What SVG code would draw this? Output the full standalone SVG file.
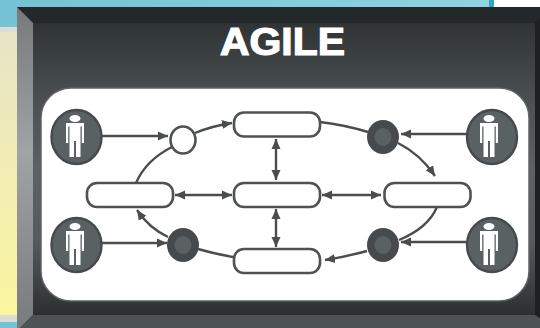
<svg xmlns="http://www.w3.org/2000/svg" width="540" height="328" viewBox="0 0 540 328">
<defs>
<linearGradient id="teal" x1="0" y1="0" x2="1" y2="0"><stop offset="0" stop-color="#74c2d3"/><stop offset="1" stop-color="#90d3e2"/></linearGradient>
<linearGradient id="yel" x1="0" y1="0" x2="0" y2="1"><stop offset="0" stop-color="#e8e4c6"/><stop offset="1" stop-color="#fbf6a0"/></linearGradient>
<linearGradient id="inner" x1="0" y1="0" x2="0" y2="1"><stop offset="0" stop-color="#2f3334"/><stop offset="0.25" stop-color="#494f51"/><stop offset="0.5" stop-color="#5c6264"/><stop offset="0.75" stop-color="#555a5c"/><stop offset="1" stop-color="#2b2f30"/></linearGradient>
<linearGradient id="lb" x1="0" y1="0" x2="0" y2="1"><stop offset="0" stop-color="#77797b"/><stop offset="0.45" stop-color="#a0a4a6"/><stop offset="1" stop-color="#787b7d"/></linearGradient>
<marker id="a" markerUnits="userSpaceOnUse" markerWidth="12" markerHeight="12" refX="10" refY="5.500" orient="auto-start-reverse"><path d="M0,1L10,5.500L0,10Z" fill="#4a4c4e"/></marker>
<g id="man"><ellipse cx="0" cy="-17.500" rx="5.500" ry="3.500" fill="#fff"/><path d="M-9,-13H9V7H6.800V-9.500H5.500V21H1V5H-1V21H-5.500V-9.500H-6.800V7H-9Z" fill="#fff"/></g>
</defs>
<style>
.c{fill:none;stroke:#4a4c4e;stroke-width:2.400}
.r{fill:#fff;stroke:#4f5254;stroke-width:2.600}
.p{fill:#5a6163;stroke:#474a4c;stroke-width:2.400}
.d{fill:#474a4c}
.i{fill:#5a6163}
</style>
<rect width="540" height="328" fill="#fff"/>
<rect x="0" y="0" width="489" height="27" fill="url(#teal)"/>
<rect x="489" y="0" width="5" height="7" fill="#32a3c0"/>
<rect x="0" y="27" width="17" height="5" fill="#dcdcd8"/>
<rect x="0" y="32" width="17" height="283" fill="url(#yel)"/>
<rect x="0" y="315" width="17" height="7" fill="#dcdcd0"/>
<rect x="0" y="322" width="20" height="6" fill="#74c2d3"/>
<rect x="17" y="7" width="523" height="321" fill="#23282a"/>
<rect x="33" y="23" width="502" height="292" fill="url(#inner)"/>
<path d="M17,7L33,23V315L20,328H17Z" fill="url(#lb)"/>
<path d="M20,328L33,315H535L540,318V328Z" fill="#4d5254"/>
<path d="M535,23L540,18V318L535,315Z" fill="#1c2022"/>
<rect x="41" y="88" width="488" height="213" rx="30" fill="#fff" stroke="#5f6365" stroke-width="1.500"/>
<text x="220" y="55" font-family="Liberation Sans, Arial, sans-serif" font-weight="700" font-size="38" fill="#fff" stroke="#fff" stroke-width="1.200" textLength="125" lengthAdjust="spacingAndGlyphs">AGILE</text>
<g id="connectors">
<path class="c" d="M102,136H168" marker-end="url(#a)"/>
<path class="c" d="M195,133Q212,126 232,123" marker-end="url(#a)"/>
<path class="c" d="M136,183Q146,160 172,147"/>
<path class="c" d="M320,122Q345,125 368,132"/>
<path class="c" d="M398,143Q420,154 435,176" marker-end="url(#a)"/>
<path class="c" d="M467,134H401" marker-end="url(#a)"/>
<path class="c" d="M276,139V180" marker-start="url(#a)" marker-end="url(#a)"/>
<path class="c" d="M276,209V247" marker-start="url(#a)" marker-end="url(#a)"/>
<path class="c" d="M175,195H232" marker-start="url(#a)" marker-end="url(#a)"/>
<path class="c" d="M322,195H381" marker-start="url(#a)" marker-end="url(#a)"/>
<path class="c" d="M437,207Q428,228 399,240"/>
<path class="c" d="M367,251Q345,257 325,260" marker-end="url(#a)"/>
<path class="c" d="M467,242H401" marker-end="url(#a)"/>
<path class="c" d="M168,237Q149,228 137,210" marker-end="url(#a)"/>
<path class="c" d="M233,257Q215,254 198,249"/>
<path class="c" d="M102,243H167" marker-end="url(#a)"/>
</g>
<g id="open"><ellipse class="r" cx="183" cy="140" rx="12.500" ry="13.500"/></g>
<g id="dark-tr"><ellipse class="d" cx="383" cy="137" rx="16" ry="17"/><ellipse class="i" cx="383" cy="137" rx="8.500" ry="9"/></g>
<g id="dark-br"><ellipse class="d" cx="383" cy="245" rx="16" ry="17"/><ellipse class="i" cx="383" cy="245" rx="8.500" ry="9"/></g>
<g id="dark-bl"><ellipse class="d" cx="183" cy="245" rx="16" ry="17"/><ellipse class="i" cx="183" cy="245" rx="8.500" ry="9"/></g>
<g id="box-top"><rect class="r" x="234" y="112.500" width="86" height="24" rx="10"/></g>
<g id="box-mid"><rect class="r" x="234" y="183" width="86" height="24" rx="10"/></g>
<g id="box-bot"><rect class="r" x="234" y="249" width="86" height="24" rx="10"/></g>
<g id="box-left"><rect class="r" x="87" y="183" width="86" height="24" rx="10"/></g>
<g id="box-right"><rect class="r" x="384.500" y="183" width="86" height="24" rx="10"/></g>
<g id="person-tl"><ellipse class="p" cx="76.500" cy="137" rx="25" ry="27"/><use href="#man" x="75" y="136"/></g>
<g id="person-bl"><ellipse class="p" cx="76.500" cy="245" rx="25" ry="27"/><use href="#man" x="75" y="244"/></g>
<g id="person-tr"><ellipse class="p" cx="492" cy="137" rx="25" ry="27"/><use href="#man" x="489" y="136"/></g>
<g id="person-br"><ellipse class="p" cx="492" cy="245" rx="25" ry="27"/><use href="#man" x="489" y="244"/></g>
</svg>
